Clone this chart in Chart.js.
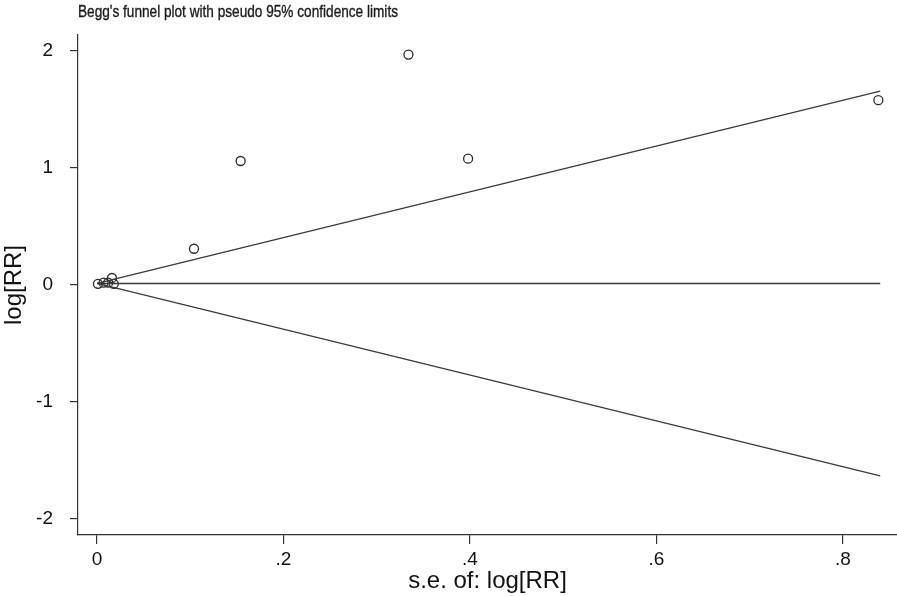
<!DOCTYPE html>
<html><head><meta charset="utf-8">
<script src="https://cdn.jsdelivr.net/npm/chart.js@4/dist/chart.umd.min.js"></script>
<style>html,body{margin:0;padding:0;background:#fff;overflow:hidden;}#wrap{width:897px;height:596px;position:relative;}canvas{display:block;}</style>
</head><body><div id="wrap"><canvas id="c"></canvas></div>
<script>
const titleText = "Begg's funnel plot with pseudo 95% confidence limits";
const xTitle = "s.e. of: log[RR]";
const yTitle = "log[RR]";
const xTickValues = [0, 0.2, 0.4, 0.6, 0.8];
const xTickLabels = ["0", ".2", ".4", ".6", ".8"];
const yTickValues = [-2, -1, 0, 1, 2];
const yTickLabels = ["-2", "-1", "0", "1", "2"];
const studySE = [0.001, 0.007, 0.012, 0.016, 0.018, 0.104, 0.154, 0.334, 0.398, 0.838];
const studyLogRR = [0.01, 0.02, 0.02, 0.06, 0.01, 0.31, 1.06, 1.97, 1.08, 1.58];
const lineSE = [0, 0.84];
const centerLine = [0.013, 0.013];
const upperLimit = [0.013, 1.658];
const lowerLimit = [0.013, -1.632];

const FONT = '"Liberation Sans", Arial, sans-serif';
const toPts = (xs, ys) => xs.map((x, i) => ({x: x, y: ys[i]}));
const ink = '#333333';
const lineStyle = {type: 'line', showLine: true, borderColor: '#3a3a3a', borderWidth: 1.3, pointRadius: 0, fill: false, tension: 0};

const titlePlugin = {
  id: 'tt',
  afterDraw(chart) {
    const ctx = chart.ctx;
    ctx.save();
    ctx.fillStyle = '#1a1a1a';
    ctx.strokeStyle = '#1a1a1a';
    ctx.lineWidth = 0.35;
    ctx.font = '17px ' + FONT;
    ctx.textBaseline = 'middle';
    ctx.textAlign = 'left';
    const w = ctx.measureText(titleText).width;
    const sx = 320 / w;
    ctx.translate(78, 12);
    ctx.scale(sx, 1);
    ctx.fillText(titleText, 0, 0);
    ctx.strokeText(titleText, 0, 0);
    ctx.restore();
  }
};

new Chart(document.getElementById('c'), {
  type: 'scatter',
  data: {
    datasets: [
      Object.assign({data: toPts(lineSE, centerLine)}, lineStyle),
      Object.assign({data: toPts(lineSE, upperLimit)}, lineStyle),
      Object.assign({data: toPts(lineSE, lowerLimit)}, lineStyle),
      {type: 'scatter', data: toPts(studySE, studyLogRR), pointRadius: 4.5, pointBorderWidth: 1.3,
       pointBorderColor: '#2a2a2a', pointBackgroundColor: 'rgba(255,255,255,0)', clip: false}
    ]
  },
  options: {
    responsive: true, maintainAspectRatio: false, animation: false,
    devicePixelRatio: 1,
    layout: {autoPadding: false, padding: {top: 35, right: 0, left: 0, bottom: 0}},
    plugins: {legend: {display: false}, tooltip: {enabled: false}, title: {display: false}},
    scales: {
      x: {
        type: 'linear', min: -0.0204, max: 0.858,
        afterBuildTicks: (s) => { s.ticks = xTickValues.map(v => ({value: v})); },
        afterFit: (s) => { s.height = 61; s.paddingLeft = 0; s.paddingRight = 0; },
        ticks: {
          callback: (v) => { const i = xTickValues.indexOf(v); return i >= 0 ? xTickLabels[i] : ''; },
          color: '#111', font: {family: FONT, size: 19}, padding: 4, maxRotation: 0, autoSkip: false
        },
        grid: {drawOnChartArea: false, drawTicks: true, tickLength: 9, color: ink, lineWidth: 1.2},
        border: {display: true, color: ink, width: 1.2},
        title: {display: true, text: xTitle, color: '#111', font: {family: FONT, size: 24}, padding: {top: 0, bottom: 0}}
      },
      y: {
        type: 'linear', min: -2.137, max: 2.137,
        afterBuildTicks: (s) => { s.ticks = yTickValues.map(v => ({value: v})); },
        afterFit: (s) => { s.width = 78; s.paddingTop = 0; s.paddingBottom = 0; },
        ticks: {
          callback: (v) => { const i = yTickValues.indexOf(v); return i >= 0 ? yTickLabels[i] : ''; },
          color: '#111', font: {family: FONT, size: 19}, padding: 17, autoSkip: false
        },
        grid: {drawOnChartArea: false, drawTicks: true, tickLength: 8, color: ink, lineWidth: 1.2},
        border: {display: true, color: ink, width: 1.2},
        title: {display: true, text: yTitle, color: '#111', font: {family: FONT, size: 24}, padding: {top: 0, bottom: 0}}
      }
    }
  },
  plugins: [titlePlugin]
});
</script></body></html>
